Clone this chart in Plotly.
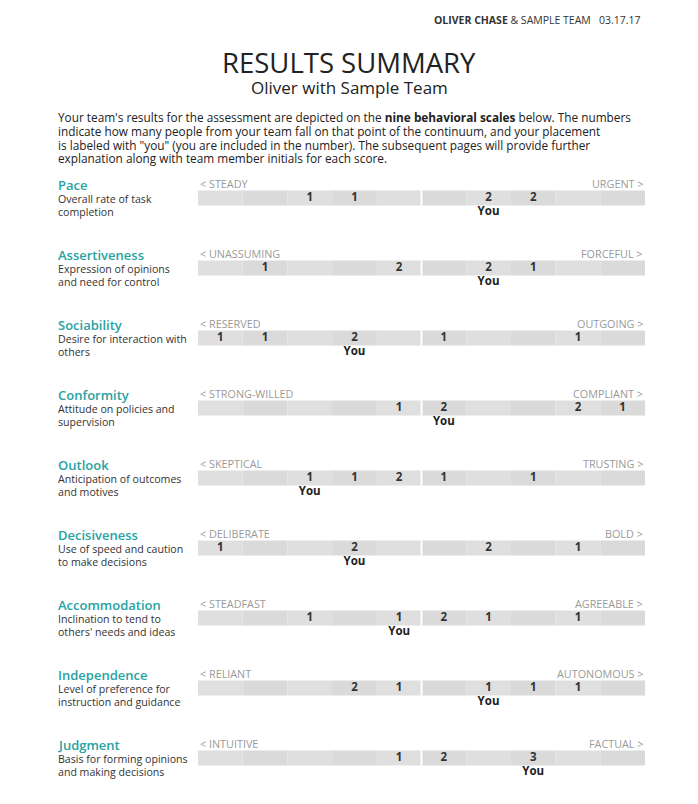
import plotly.graph_objects as go

# ---------------- data ----------------
categories = ["Pace", "Assertiveness", "Sociability", "Conformity", "Outlook",
              "Decisiveness", "Accommodation", "Independence", "Judgment"]
descriptions = [
    ["Overall rate of task", "completion"],
    ["Expression of opinions", "and need for control"],
    ["Desire for interaction with", "others"],
    ["Attitude on policies and", "supervision"],
    ["Anticipation of outcomes", "and motives"],
    ["Use of speed and caution", "to make decisions"],
    ["Inclination to tend to", "others' needs and ideas"],
    ["Level of preference for", "instruction and guidance"],
    ["Basis for forming opinions", "and making decisions"],
]
left_labels = ["< STEADY", "< UNASSUMING", "< RESERVED", "< STRONG-WILLED", "< SKEPTICAL",
               "< DELIBERATE", "< STEADFAST", "< RELIANT", "< INTUITIVE"]
right_labels = ["URGENT >", "FORCEFUL >", "OUTGOING >", "COMPLIANT >", "TRUSTING >",
                "BOLD >", "AGREEABLE >", "AUTONOMOUS >", "FACTUAL >"]
slots = list(range(10))
# team member counts per slot (0 = empty)
counts = [
    [0, 0, 1, 1, 0, 0, 2, 2, 0, 0],  # Pace
    [0, 1, 0, 0, 2, 0, 2, 1, 0, 0],  # Assertiveness
    [1, 1, 0, 2, 0, 1, 0, 0, 1, 0],  # Sociability
    [0, 0, 0, 0, 1, 2, 0, 0, 2, 1],  # Conformity
    [0, 0, 1, 1, 2, 1, 0, 1, 0, 0],  # Outlook
    [1, 0, 0, 2, 0, 0, 2, 0, 1, 0],  # Decisiveness
    [0, 0, 1, 0, 1, 2, 1, 0, 1, 0],  # Accommodation
    [0, 0, 0, 2, 1, 0, 1, 1, 1, 0],  # Independence
    [0, 0, 0, 0, 1, 2, 0, 3, 0, 0],  # Judgment
]
you_slot = [6, 6, 3, 5, 2, 3, 4, 6, 7]

header_bold = "OLIVER CHASE"
header_rest = " & SAMPLE TEAM   03.17.17"
title = "RESULTS SUMMARY"
subtitle = "Oliver with Sample Team"
intro_lines = [
    "Your team's results for the assessment are depicted on the <b>nine behavioral scales</b> below. The numbers",
    "indicate how many people from your team fall on that point of the continuum, and your placement",
    "is labeled with \"you\" (you are included in the number). The subsequent pages will provide further",
    "explanation along with team member initials for each score.",
]

# ---------------- style ----------------
OFF = 8                      # page body margin of the html page
W, H = 698 - OFF, 804 - OFF  # figure size
FONT = "Open Sans"
TEAL = "#27a3a1"
DARK = "#222222"
GRAY = "#9a9a9a"
SHADES = ["#dfdfdf", "#dadada"]
BAR_H = 0.215
ROW0, ROWSTEP = 198, 70
rows = list(range(len(categories)))


def px(p):
    return (p - OFF) / W


def py(p):
    return 1 - (p - OFF) / H


fig = go.Figure()

# scale bars: one segment per slot
for s in slots:
    fig.add_trace(go.Bar(
        orientation="h", y=rows, x=[1] * len(rows), base=[s] * len(rows),
        width=BAR_H, marker=dict(color=SHADES[s % 2], line=dict(width=0)),
        hoverinfo="skip", showlegend=False))

# count numbers
nx, ny, nt = [], [], []
for r, row in enumerate(counts):
    for s, c in enumerate(row):
        if c:
            nx.append(s + 0.5)
            ny.append(r + 0.005)
            nt.append(f"<b>{c}</b>")
fig.add_trace(go.Scatter(x=nx, y=ny, text=nt, mode="text",
                         textfont=dict(family=FONT, size=11.5, color="#333333"),
                         textposition="middle center", hoverinfo="skip", showlegend=False))

# "You" labels
fig.add_trace(go.Scatter(x=[v + 0.5 for v in you_slot], y=[r + 0.195 for r in rows],
                         text=["<b>You</b>"] * len(rows), mode="text",
                         textfont=dict(family=FONT, size=11.5, color="#222222"),
                         textposition="middle center", hoverinfo="skip", showlegend=False))

shapes = []
annotations = []
for r in rows:
    # midpoint divider
    shapes.append(dict(type="line", xref="x", yref="y", x0=5, x1=5,
                       y0=r - BAR_H / 2, y1=r + BAR_H / 2,
                       line=dict(color="white", width=2), layer="above"))
    annotations.append(dict(xref="x", yref="y", x=0, y=r - 0.205, text=left_labels[r],
                            xanchor="left", yanchor="middle", showarrow=False,
                            font=dict(family=FONT, size=10.8, color=GRAY)))
    annotations.append(dict(xref="x", yref="y", x=10, y=r - 0.205, text=right_labels[r],
                            xanchor="right", yanchor="middle", showarrow=False,
                            font=dict(family=FONT, size=10.8, color=GRAY)))
    annotations.append(dict(xref="paper", yref="y", x=px(56), y=r - 0.18,
                            text=categories[r], xanchor="left", yanchor="middle",
                            showarrow=False,
                            font=dict(family=FONT, size=13, color=TEAL, weight=600)))
    for k, line in enumerate(descriptions[r]):
        annotations.append(dict(xref="paper", yref="y", x=px(56), y=r + 0.015 + 0.18 * k,
                                text=line, xanchor="left", yanchor="middle",
                                showarrow=False, font=dict(family=FONT, size=10.6, color="#333333")))

# header / title / intro
annotations.append(dict(xref="paper", yref="paper", x=px(643), y=py(20),
                        text=f"<b>{header_bold}</b>{header_rest}", xanchor="right",
                        yanchor="middle", showarrow=False,
                        font=dict(family=FONT, size=10.5, color="#333333")))
annotations.append(dict(xref="paper", yref="paper", x=px(349), y=py(62), text=title,
                        xanchor="center", yanchor="middle", showarrow=False,
                        font=dict(family=FONT, size=27.5, color=DARK, weight=500)))
annotations.append(dict(xref="paper", yref="paper", x=px(349), y=py(87), text=subtitle,
                        xanchor="center", yanchor="middle", showarrow=False,
                        font=dict(family=FONT, size=17, color=DARK)))
for k, line in enumerate(intro_lines):
    annotations.append(dict(xref="paper", yref="paper", x=px(56), y=py(117 + 13.8 * k),
                            text=line, xanchor="left", yanchor="middle", showarrow=False,
                            font=dict(family=FONT, size=11.8, color=DARK)))

# y axis in row units: row r sits at page pixel ROW0 + ROWSTEP*r
top_row = (OFF - ROW0) / ROWSTEP
bot_row = (OFF + H - ROW0) / ROWSTEP

fig.update_layout(
    width=W, height=H, margin=dict(l=0, r=0, t=0, b=0),
    paper_bgcolor="white", plot_bgcolor="white",
    barmode="overlay", showlegend=False,
    xaxis=dict(domain=[px(198), px(645)], range=[0, 10], visible=False, fixedrange=True),
    yaxis=dict(domain=[0, 1], range=[bot_row, top_row], visible=False, fixedrange=True),
    shapes=shapes, annotations=annotations,
    font=dict(family=FONT),
)

fig.write_html("out.html")
